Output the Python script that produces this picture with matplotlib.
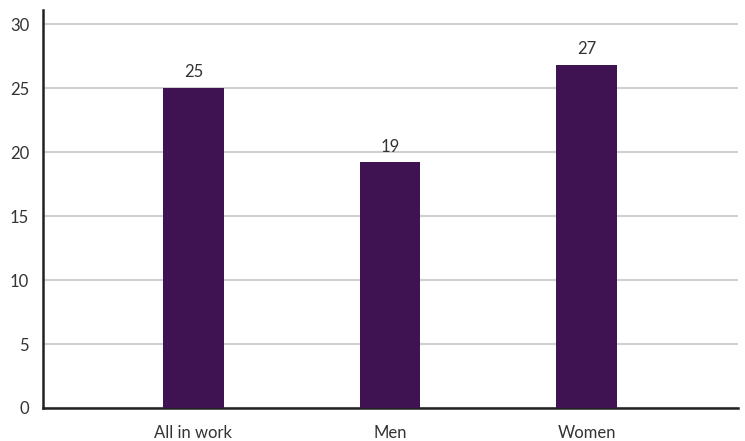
import matplotlib
matplotlib.use("Agg")
import matplotlib.pyplot as plt

categories = ["All in work", "Men", "Women"]
values = [25.0, 19.2, 26.8]
labels = ["25", "19", "27"]
yticks = [0, 5, 10, 15, 20, 25, 30]

plt.rcParams['font.family'] = ['Lato', 'DejaVu Sans']

fig = plt.figure(figsize=(7.45, 4.41), dpi=100)
ax = fig.add_axes([43/745, 33/441, (738-43)/745, (408-10)/441])

x = list(range(len(categories)))
ax.bar(x, values, width=0.31, color="#3f1352", zorder=3)
for xi, v, lab in zip(x, values, labels):
    ax.text(xi, v + 0.6, lab, ha="center", va="bottom", fontsize=12,
            color="#333333")

ax.set_xlim(-0.765, 2.77)
ax.set_ylim(0, 31.1)
ax.set_yticks(yticks)
ax.set_xticks(x)
ax.set_xticklabels(categories)
ax.tick_params(axis="both", length=0, labelsize=12, colors="#333333")
ax.tick_params(axis="x", pad=12)
ax.tick_params(axis="y", pad=10)
ax.grid(axis="y", color="#d0d0d0", linewidth=1.5, zorder=0)
ax.set_axisbelow(True)
for s in ["top", "right"]:
    ax.spines[s].set_visible(False)
for s in ["left", "bottom"]:
    ax.spines[s].set_color("#222222")
    ax.spines[s].set_linewidth(1.8)

fig.savefig("out.png", dpi=100)
